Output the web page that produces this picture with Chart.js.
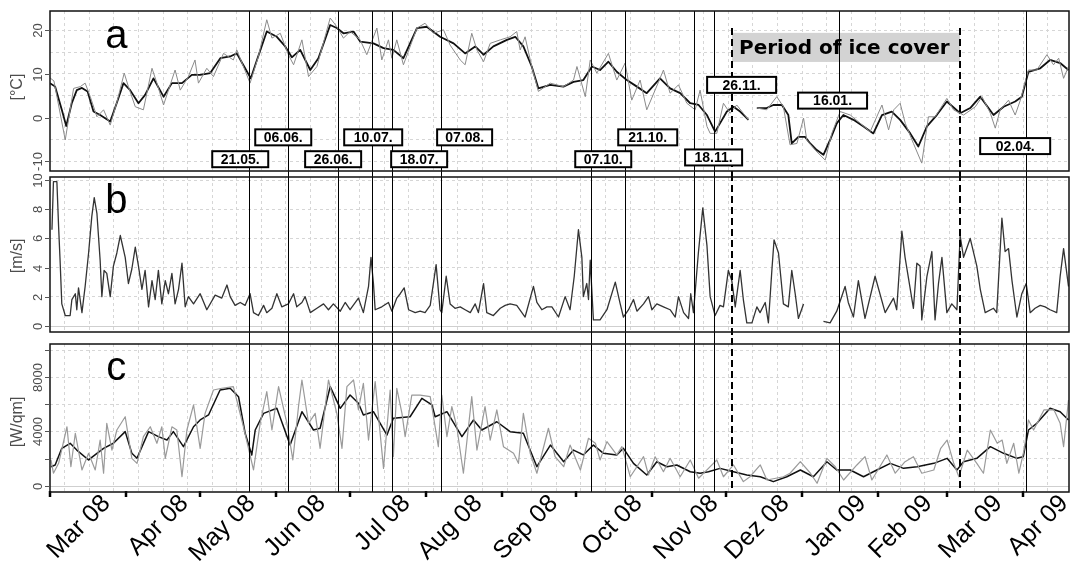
<!DOCTYPE html>
<html>
<head>
<meta charset="utf-8">
<script src="https://cdn.jsdelivr.net/npm/chart.js@4.4.1/dist/chart.umd.min.js"></script>
<style>
  body { margin: 0; background: #fff; }
  #wrap { position: relative; width: 1072px; height: 578px; overflow: hidden; }
  canvas { position: absolute; left: 0; }
</style>
</head>
<body>
<div id="wrap">
  <canvas id="pa" width="1072" height="174" style="top:0px"></canvas>
  <canvas id="pb" width="1072" height="164" style="top:174px"></canvas>
  <canvas id="pc" width="1072" height="240" style="top:338px"></canvas>
</div>
<script>
// x values are days since 01.03.2008
const monthStarts = [0, 31, 61, 92, 122, 153, 184, 214, 245, 275, 306, 337, 365, 396];
const monthLabels = ['Mar 08','Apr 08','May 08','Jun 08','Jul 08','Aug 08','Sep 08','Oct 08','Nov 08','Dez 08','Jan 09','Feb 09','Mar 09','Apr 09'];
// where the rotated month labels end (as in the original figure, they sit late in the month)
const monthLabelDays = [23, 54.7, 82, 110.5, 145, 174.3, 205, 239.4, 270.3, 299.2, 330.5, 357.4, 385.9, 412.7];

const eventDays = [81, 97, 117, 131, 139, 159, 220, 234, 262, 270, 321, 397];
const eventLabels = ['21.05.','06.06.','26.06.','10.07.','18.07.','07.08.','07.10.','21.10.','18.11.','26.11.','16.01.','02.04.'];
const iceDays = [277.5, 370.3];

// a: air temperature [°C]
const tempDailyDays = [
  0, 1.6, 6.2, 9.6, 12.3, 14.3, 16.4, 19.1, 21.8, 24.5,
  27.2, 30.2, 31.9, 34.7, 38, 41.5, 43.5, 46.2, 50.9, 53, 56.3,
  59, 60.4, 63.8, 66.5, 70.6, 74.6, 76, 81.4, 84.8, 88.2,
  90.3, 93.7, 97, 99.1, 102.5, 105.2, 108.6, 114, 116.7, 119.4,
  122.1, 126.2, 128.9, 133, 135, 137.7, 139.1, 141.1, 143.8, 149.3,
  152.6, 156, 160.1, 162.8, 166.9, 168.9, 171.6, 173.7, 176.4, 179.1,
  183.2, 187.2, 189.9, 191.3, 193.3, 196, 198.7, 203.5, 208.9, 213,
  214.4, 217.8, 219.8, 222.5, 227.2, 230.6, 234, 236.7, 240.1, 242.8,
  246.2, 249.6, 252.3, 255.7, 259.1, 262.5, 264.5, 267.3, 268.6, 271.3,
  274, 276.7, 279.4, 282.1, 284.2, 285.9, 287.6, 291.6, 295.7, 298.4,
  301.1, 303.9, 306.6, 307.9, 311.3, 315.4, 318.1, 321.5, 325.6, 329.7,
  333.7, 338.5, 341.2, 343.3, 345.9, 348, 351.3, 354.7, 357.4, 360.1,
  364.9, 367.6, 371.7, 376.5, 379.2, 382.6, 384.6, 386.6, 390, 392.7,
  394.8, 398.1, 401.5, 405.6, 408.3, 410.4, 412.4, 414.4
];
const tempDaily = [
  9.1, 8.4, -5.1, 6.7, 7.1, 7.9, 4.8, 0.2, 1.8, -1.7,
  3.5, 10.2, 7.1, 2.5, 1.8, 11.3, 7.9, 2.9, 10.9, 6.3, 9.4,
  13.2, 7.9, 11.3, 9.4, 14.7, 13.2, 15.5, 7.9, 14, 22.4,
  18.2, 19.3, 14.4, 12.1, 17.8, 9.4, 11.7, 22.8, 20.8, 18.2,
  19.7, 17.8, 14.4, 20.5, 13.2, 17.8, 13.6, 17.8, 12.1, 20.5,
  21.6, 19.3, 20.1, 16.6, 13.2, 12.1, 19.3, 15.5, 12.8, 17,
  17.8, 18.5, 19.7, 15.5, 18.5, 11.7, 6, 7.9, 7.1, 8.6,
  11.7, 4.8, 13.2, 10.2, 14.7, 8.6, 12.5, 4, 8.6, 1.8,
  6.3, 10.9, 5.6, 7.5, 3.3, 1.8, 6.3, -2, -3.6, -3.6,
  3.3, 1, 2.9, 1, -0.5, null, 2.2, 1.8, 4.8, 2.5,
  -6.2, -5.9, -0.1, -5.1, -7.4, -9.7, -3.6, 1.4, 0.6, -1.3,
  -3.2, 2.9, -2.8, 1.8, 3.3, -1.3, -5.9, -10.4, 0.2, 0.2,
  4.4, 1.8, 0.6, 2.5, 4.8, 1, -2.4, 1.8, 4, 0.6,
  4, 10.9, 10.9, 14.4, 12.1, 13.6, 9, 11.7
];
const tempSmoothDays = [
  0, 2.1, 4.8, 6.6, 8.9, 10.9, 13, 15.3, 17.7, 20.4,
  24.5, 27.2, 29.9, 32.6, 36, 38.7, 42.1, 46.2, 49.6, 53.7,
  57.7, 61.1, 65.2, 69.3, 73.3, 76, 78.7, 81.7, 84.2, 88.2,
  92.3, 95.7, 98.4, 101.8, 105.9, 109.2, 114, 116.7, 119.4, 123.5,
  126.2, 131.6, 135.7, 139.7, 143.8, 149.3, 153.3, 158.7, 164.2, 168.9,
  173, 176.4, 180.4, 185.9, 189.3, 192.6, 196, 198.7, 203.5, 208.9,
  213, 217, 220.5, 223.8, 227.2, 230.6, 234.7, 238.8, 242.8, 248.2,
  252.3, 256.4, 260.5, 263.9, 267.3, 270.6, 272.6, 275.4, 278.1, 280.8,
  284.2, 285.9, 287.6, 291.6, 294.3, 297.8, 300.4, 301.8, 304.5, 307.2,
  309.3, 312, 314.7, 317.4, 320.1, 322.8, 326.9, 331, 335, 338.5,
  342.5, 345.9, 350, 353.3, 356.8, 360.8, 364.9, 370.3, 374.4, 378.5,
  383.9, 388, 392.7, 395.4, 398.1, 402.9, 406.9, 411, 414.4
];
const tempSmooth = [
  7.9, 7.1, 1.8, -1.9, 3.4, 6.3, 6.8, 6, 1.4, 0.6,
  -0.9, 3.4, 7.9, 6.3, 3.3, 5.2, 9, 4.8, 7.9, 7.9,
  9.8, 9.8, 10.2, 13.6, 14, 14.7, 12, 9, 13.2, 19.7,
  18.5, 16.3, 13.8, 15.5, 10.9, 13.6, 21.2, 20.5, 19.3, 19.7,
  17.4, 17, 15.9, 15.5, 13.6, 20.5, 20.8, 18.5, 17, 14.7,
  16.3, 14.4, 16.3, 17.8, 18.5, 16.3, 11.7, 6.7, 7.5, 7.1,
  8.2, 8.6, 11.7, 10.9, 12.8, 10.5, 8.6, 7.1, 5.6, 9,
  6.7, 5.6, 3.3, 2.9, 0.6, -3.2, -1.3, 1.4, 2.5, 1.4,
  -0.5, null, 2.2, 2.2, 2.9, 2.9, 0.6, -5.9, -4.4, -4.4,
  -5.9, -7.4, -8.5, -5.1, -1.3, 0.6, -0.5, -2, -3.6, 0.6,
  1.4, -0.5, -3.6, -6.6, -2, 0.6, 3.7, 1, 2.2, 4.8,
  0.6, 2.5, 3.7, 4.8, 10.5, 11.3, 13.2, 12.5, 10.9
];

// b: wind speed [m/s]
const windDays = [
  0.8, 1.4, 2.8, 3.5, 4.1, 4.8, 6.2, 8.2, 8.9, 10.3,
  10.9, 11.6, 13, 14.3, 15.7, 17, 18, 19.1, 20.4, 21.1,
  22, 23.1, 24.5, 25.8, 27.2, 28.6, 30.6, 31.9, 33.3, 34.7,
  36, 37.4, 38.7, 40.1, 41.5, 42.8, 44.1, 45.5, 46.9, 48.2,
  49.6, 50.9, 52.3, 53.7, 55, 56.3, 58.4, 61.1, 63.8, 67.2,
  69.9, 72, 73.3, 75.3, 77.4, 79.4, 81.4, 82.8, 84.8, 86.9,
  88.2, 90.3, 92.3, 94.3, 97, 99.1, 100.4, 102.5, 103.8, 105.9,
  108.6, 111.3, 113.3, 115.3, 118.1, 120.1, 122.1, 125.5, 127.5, 129.6,
  130.6, 131.6, 132.3, 135, 137.7, 139.1, 141.1, 142.5, 144.1, 145.9,
  148.6, 150.6, 152.6, 154.7, 157.1, 158.7, 159.4, 161.2, 162.8, 164.8,
  166.9, 168.9, 171, 173, 174.3, 176.4, 177.7, 180.4, 183.2, 185.2,
  187.2, 189.9, 193.3, 196.7, 198.1, 200.1, 202.2, 204.2, 206.9, 209.6,
  211.6, 213.3, 215, 216.4, 217, 218.4, 219.1, 219.8, 221.1, 223.8,
  226.6, 230, 232, 233.3, 235.4, 237.4, 238.8, 241.5, 243.5, 244.9,
  246.9, 249.6, 252.3, 254.4, 255.7, 257.8, 259.8, 260.7, 261.8, 263.8,
  265.6, 267.3, 268.6, 270.6, 272.6, 274, 276, 277.4, 278.8, 280.8,
  282.1, 283.5, 285.6, 287.6, 288.9, 291, 292.3, 293.7, 294.6, 296.4,
  298.4, 300.4, 301.8, 303.2, 304.5, 306.6, 310, 314.7, 317.4, 320.1,
  323.5, 324.8, 326.9, 328.9, 331.6, 335.7, 339.8, 343.2, 344.5, 346.6,
  347.9, 351.3, 352.7, 354, 354.7, 356.8, 358.8, 360.1, 361.5, 362.9,
  364.9, 366.9, 369, 370.3, 371.7, 374.4, 377.1, 378.5, 380.5, 383.9,
  385.2, 387.3, 388.6, 390, 391.4, 393.4, 395.4, 397.2, 398.8, 400.8,
  402.9, 404.9, 406.9, 409.6, 411, 412.4, 414.4
];
const wind = [
  6.6, 9.9, 9.9, 6.8, 4.5, 1.5, 0.7, 0.7, 1.8, 2.2,
  1.1, 2.6, 0.9, 2.7, 5, 7.5, 8.8, 7.7, 4.5, 2,
  3.8, 3.6, 2, 4.1, 5, 6.2, 4.7, 2.9, 3.9, 5.4,
  4.1, 2.5, 3.8, 1.3, 3.1, 1.8, 3.8, 1.5, 3.1, 2.2,
  3.6, 1.5, 2.5, 4.3, 1.3, 2, 1.5, 2.2, 1.1, 2.1,
  1.9, 2.8, 2, 1.4, 1.6, 1.4, 2.2, 0.9, 0.7, 1.4,
  0.9, 1.2, 2.2, 1.3, 1.5, 2.2, 1.3, 1.6, 2, 0.9,
  1.2, 1.5, 1.1, 1.5, 1, 1.6, 1.1, 1.9, 0.9, 2.7,
  4.7, 2.9, 1.1, 1.3, 1.6, 1, 1.9, 2.2, 2.6, 1.1,
  0.9, 1, 0.9, 1.4, 4.2, 1.1, 0.9, 3.4, 1.5, 1.2,
  1.3, 1.1, 0.9, 1.5, 0.9, 2.9, 0.9, 0.7, 1.2, 1.4,
  1.5, 1.4, 0.6, 2.7, 1.6, 1.1, 1.3, 1.3, 0.6, 2,
  1.1, 3.4, 6.6, 4.7, 2, 2.9, 1.8, 4.5, 0.4, 0.4,
  1.1, 3, 1.5, 0.6, 1.1, 1.8, 1, 1.5, 2, 1.1,
  1.5, 1.3, 1.1, 0.6, 2, 0.9, 0.5, 2.2, 0.9, 5,
  8.1, 5.5, 2, 0.7, 1.4, 1.3, 3.8, 3.1, 1.3, 3.8,
  1.8, 0.2, 0.2, 1.3, 0.9, 1.6, 0.2, 3.8, 5.9, 5,
  1.5, 1.3, 3.8, 2.2, 0.5, 1.5, null, 0.3, 0.2, 1,
  2.7, 1.6, 0.6, 3.1, 0.5, 3.4, 0.9, 1.9, 1.1, 6.5,
  4.7, 1.2, 4.3, 4.1, 0.4, 3.4, 5.1, 0.4, 2.9, 4.7,
  0.9, 1.5, 1.1, 6.2, 4.7, 6, 4.1, 2.5, 0.9, 1.2,
  0.9, 7.4, 5.1, 5.3, 3.1, 0.6, 2.2, 2.9, 0.9, 1.2,
  1.4, 1.3, 1.1, 0.9, 3.4, 5.3, 2.7
];

// c: radiation [W/qm]
const radDailyDays = [
  0.4, 1.4, 3.5, 6.9, 8.5, 10.3, 13, 15.7, 18.4, 20.4,
  21.8, 23.1, 25.2, 27.2, 30.6, 33.3, 35.4, 38, 40.8, 43.5,
  45.5, 46.9, 49.6, 51.6, 53.7, 55.7, 58.4, 61.1, 63.1, 66.5,
  69.9, 74.6, 78.7, 82.8, 85.5, 88.2, 90.3, 93, 96.4, 98.8,
  101.1, 102.5, 105.2, 107.9, 109.9, 113.3, 116.7, 118.8, 120.8, 123.5,
  125.5, 127.5, 129.6, 132.3, 135.7, 138.4, 139.7, 141.1, 143.2, 144.5,
  147.2, 150.6, 154.7, 158, 159.4, 161.5, 163.5, 165.5, 168.2, 171.6,
  173.7, 177, 179.1, 181.8, 184.5, 188.6, 190.6, 192.6, 195.4, 198.1,
  202.8, 205.5, 209, 211.6, 215.8, 219.1, 221.9, 223.8, 226.6, 230.6,
  232.7, 236.1, 241.5, 243.5, 246.2, 249.6, 252.3, 256.4, 260.5, 263.9,
  267.9, 271.3, 274, 278.1, 282.1, 284.8, 289, 291.7, 298.4, 301.1,
  305.3, 309.4, 312.1, 316.1, 319.5, 322.9, 328.3, 331.6, 334.4, 340.5,
  343.9, 347.9, 351.3, 354.7, 359.6, 362.4, 365, 367.7, 369.8, 373.2,
  377.1, 379.8, 382.6, 385.4, 387.4, 389.3, 392.1, 394.2, 396.3, 398.1,
  400.2, 404.4, 408.5, 411, 412.4, 414.4
];
const radDaily = [
  1900, 920, 1650, 4350, 1400, 3870, 1160, 2390, 1160, 3370,
  920, 4600, 2630, 4110, 5090, 2020, 1650, 3620, 4350, 3130,
  4350, 2020, 4350, 4110, 660, 4110, 5960, 2760, 5340, 7060,
  7190, 7310, 4350, 1160, 4600, 6940, 4110, 7310, 4600, 1900,
  5830, 7800, 4600, 5340, 2760, 7800, 5340, 2760, 7310, 7800,
  5590, 7560, 3370, 7680, 1280, 7060, 2140, 7190, 5340, 3620,
  6690, 6690, 6570, 2880, 6690, 3620, 5830, 4350, 920, 6570,
  2630, 5830, 3370, 5590, 2880, 2390, 1650, 5340, 2390, 920,
  4240, 2140, 1400, 3000, 1160, 3500, 3130, 1900, 3250, 2270,
  2880, 660, 2140, 790, 2140, 1030, 2020, 660, 1900, 550,
  1280, 1900, 660, 1530, 300, 660, 1530, 420, 660, 920,
  1770, 920, 180, 2020, 1400, 420, 1530, 2140, 420, 2270,
  920, 1770, 2140, 920, 1160, 2760, 3370, 1650, 660, 2630,
  1650, 920, 4110, 3130, 3370, 1650, 3130, 920, 2630, 4850,
  4110, 5590, 5590, 4600, 2880, 6320
];
const radSmoothDays = [
  0.4, 2.1, 4.8, 8.2, 10.9, 15.7, 19.1, 21.8, 25.8, 30.6,
  33.3, 35.4, 40.1, 44.1, 47.6, 50.2, 54.3, 58.4, 61.1, 64.5,
  69.2, 73.3, 76.7, 79.4, 82.1, 83.5, 86.9, 92.3, 97.7, 102.5,
  107.2, 109.9, 114, 118.1, 122.1, 125.5, 127.5, 131.6, 137.1, 139.7,
  146.5, 151.3, 155.4, 156.7, 161.5, 167.6, 172.3, 175.7, 181.8, 187.2,
  192.6, 198.1, 203.6, 209, 213, 217, 221.1, 225.2, 230.6, 233.3,
  237.4, 242.8, 246.9, 251, 255, 260.5, 264.5, 267.9, 272.6, 278.1,
  283.5, 289, 294.3, 299.8, 305.3, 310.6, 316.1, 320.1, 325.6, 331,
  336.4, 341.9, 347.3, 352.8, 359.6, 365, 369, 371.7, 377.1, 382.6,
  388, 393.4, 396, 398.1, 401.5, 406.9, 411, 414.4
];
const radSmooth = [
  1400, 1530, 2760, 3130, 2630, 1900, 2390, 2760, 3130, 3990,
  2390, 2020, 3990, 3620, 3370, 3990, 2880, 4350, 4850, 5220,
  7060, 7190, 6570, 3870, 2270, 4110, 5340, 5710, 3000, 5460,
  4110, 4240, 7310, 5710, 6690, 6080, 5220, 5460, 3740, 4970,
  5090, 6450, 5960, 5090, 5460, 3620, 4850, 4110, 4720, 3990,
  3870, 1400, 3000, 1770, 2630, 2270, 3000, 2390, 2270, 2760,
  1650, 790, 1770, 1400, 1530, 1030, 920, 1030, 1280, 1030,
  790, 660, 300, 660, 1160, 660, 1770, 1160, 1160, 660,
  1160, 1650, 1280, 1400, 1650, 2020, 1160, 1770, 2020, 2880,
  2390, 2020, 2140, 4110, 4600, 5710, 5460, 4850
];

const X_MAX = 414.6;
const FONT = '"Liberation Sans", Arial, sans-serif';

// date boxes in panel a: centre day, centre value, box width
const dateBoxes = [
  {d: 77.4, v: -9.5, w: 56}, {d: 94.9, v: -4.5, w: 56}, {d: 115.2, v: -9.5, w: 56},
  {d: 131.5, v: -4.5, w: 58}, {d: 150.2, v: -9.5, w: 56}, {d: 168.7, v: -4.5, w: 55},
  {d: 225.1, v: -9.5, w: 56}, {d: 243.2, v: -4.5, w: 59}, {d: 270, v: -9.1, w: 57},
  {d: 281.4, v: 7.5, w: 69}, {d: 318.4, v: 3.9, w: 69}, {d: 392.7, v: -6.5, w: 70}
];

const panelCfg = {
  pa: {letter: 'a', letterY: 16, title: '[°C]', titleY: 7, ticks: [-10, 0, 10, 20], labels: [-10, 0, 10, 20], top: 'area', bottom: 'canvas', iceTop: 20.5},
  pb: {letter: 'b', letterY: 7.75, title: '[m/s]', titleY: 4.8, ticks: [0, 2, 4, 6, 8, 10], labels: [0, 2, 4, 6, 8, 10], zero: true, top: 'canvas', bottom: 'canvas'},
  pc: {letter: 'c', letterY: 7800, title: '[W/qm]', titleY: 4700, ticks: [0, 2000, 4000, 6000, 8000, 10000], labels: [0, 4000, 8000], zero: true, top: 'canvas', bottom: 'area'}
};

const gridDays = [];
for (let d = 6; d < X_MAX; d += 10) gridDays.push(d);

function pts(days, vals) {
  return days.map((d, i) => ({x: d, y: vals[i]}));
}

const decoPlugin = {
  id: 'deco',
  beforeDatasetsDraw(chart) {
    const c = panelCfg[chart.canvas.id], ctx = chart.ctx, a = chart.chartArea;
    const x = chart.scales.x, y = chart.scales.y;
    ctx.save();
    if (c.zero) {
      const py = Math.round(y.getPixelForValue(0)) + 0.5;
      ctx.strokeStyle = '#cfcfcf'; ctx.lineWidth = 1;
      ctx.beginPath(); ctx.moveTo(a.left, py); ctx.lineTo(a.right, py); ctx.stroke();
    }
    if (chart.canvas.id === 'pa') {
      const l = x.getPixelForValue(iceDays[0]), r = x.getPixelForValue(iceDays[1]);
      const t = y.getPixelForValue(19.4), b = y.getPixelForValue(12.75);
      ctx.fillStyle = '#d3d3d3';
      ctx.fillRect(l, t, r - l, b - t);
      ctx.fillStyle = '#000';
      ctx.font = 'bold 20px "DejaVu Sans"';
      ctx.textAlign = 'left'; ctx.textBaseline = 'middle';
      ctx.fillText('Period of ice cover', l + 7, (t + b) / 2 + 1);
    }
    ctx.restore();
  },
  afterDatasetsDraw(chart) {
    const c = panelCfg[chart.canvas.id], ctx = chart.ctx, a = chart.chartArea;
    const x = chart.scales.x, y = chart.scales.y;
    const top = c.top === 'area' ? a.top : 0;
    const bottom = c.bottom === 'area' ? a.bottom : chart.height;
    ctx.save();
    // event lines
    ctx.strokeStyle = '#000'; ctx.lineWidth = 1;
    eventDays.forEach(d => {
      const px = Math.round(x.getPixelForValue(d)) + 0.5;
      ctx.beginPath(); ctx.moveTo(px, top); ctx.lineTo(px, bottom); ctx.stroke();
    });
    // ice cover start / end
    ctx.lineWidth = 2; ctx.setLineDash([7, 4]);
    const iceTop = c.iceTop !== undefined ? y.getPixelForValue(c.iceTop) : top;
    iceDays.forEach(d => {
      const px = Math.round(x.getPixelForValue(d));
      ctx.beginPath(); ctx.moveTo(px, iceTop); ctx.lineTo(px, bottom); ctx.stroke();
    });
    ctx.setLineDash([]);
    // date boxes
    if (chart.canvas.id === 'pa') {
      ctx.font = 'bold 14px ' + FONT;
      ctx.textAlign = 'center'; ctx.textBaseline = 'middle';
      dateBoxes.forEach((b, i) => {
        const cx = x.getPixelForValue(b.d), cy = y.getPixelForValue(b.v);
        ctx.fillStyle = '#fff';
        ctx.fillRect(cx - b.w / 2, cy - 8, b.w, 16);
        ctx.strokeStyle = '#000'; ctx.lineWidth = 2;
        ctx.strokeRect(cx - b.w / 2, cy - 8, b.w, 16);
        ctx.fillStyle = '#000';
        ctx.fillText(eventLabels[i], cx, cy + 1);
      });
    }
    // month tick marks under panel c
    if (chart.scales.xLab) {
      ctx.strokeStyle = '#000'; ctx.lineWidth = 2.5;
      monthStarts.forEach(d => {
        const px = Math.round(chart.scales.xLab.getPixelForValue(d));
        ctx.beginPath(); ctx.moveTo(px, a.bottom - 1); ctx.lineTo(px, a.bottom + 5); ctx.stroke();
      });
    }
    // frame
    ctx.strokeStyle = '#111'; ctx.lineWidth = 1.5;
    ctx.strokeRect(a.left, a.top, a.right - a.left, a.bottom - a.top);
    // y axis ticks, labels, title
    ctx.strokeStyle = '#555'; ctx.lineWidth = 1;
    ctx.fillStyle = '#4d4d4d';
    ctx.font = '13px ' + FONT;
    ctx.textAlign = 'center'; ctx.textBaseline = 'middle';
    c.ticks.forEach(v => {
      const py = Math.round(y.getPixelForValue(v)) + 0.5;
      ctx.beginPath(); ctx.moveTo(a.left - 5, py); ctx.lineTo(a.left, py); ctx.stroke();
      if (c.labels.includes(v)) {
        ctx.save();
        ctx.translate(a.left - 12, py);
        ctx.rotate(-Math.PI / 2);
        ctx.fillText(String(v), 0, 0);
        ctx.restore();
      }
    });
    ctx.font = '16px ' + FONT;
    ctx.save();
    ctx.translate(18, y.getPixelForValue(c.titleY));
    ctx.rotate(-Math.PI / 2);
    ctx.fillText(c.title, 0, 0);
    ctx.restore();
    // panel letter
    ctx.fillStyle = '#000';
    ctx.font = '40px ' + FONT;
    ctx.textBaseline = 'alphabetic';
    ctx.fillText(c.letter, x.getPixelForValue(27), y.getPixelForValue(c.letterY));
    ctx.restore();
  }
};

function makeScales(yMin, yMax, yGrid) {
  return {
    x: {
      type: 'linear', min: 0, max: X_MAX, position: 'bottom',
      afterBuildTicks: s => { s.ticks = gridDays.map(v => ({value: v})); },
      ticks: {display: false},
      grid: {color: '#d6d6d6', lineWidth: 1, drawTicks: false},
      border: {display: false, dash: [3, 3]},
      afterFit: s => { s.height = 0; s.paddingLeft = 0; s.paddingRight = 0; }
    },
    y: {
      type: 'linear', min: yMin, max: yMax,
      afterBuildTicks: s => { s.ticks = yGrid.map(v => ({value: v})); },
      ticks: {display: false},
      grid: {color: '#d6d6d6', lineWidth: 1, drawTicks: false},
      border: {display: false, dash: [3, 3]},
      afterFit: s => { s.width = 50; }
    }
  };
}

function baseOptions(scales, padTop, padBottom) {
  return {
    responsive: false,
    animation: false,
    devicePixelRatio: 1,
    layout: {padding: {top: padTop, bottom: padBottom, left: 0, right: 3}},
    plugins: {legend: {display: false}, tooltip: {enabled: false}},
    elements: {point: {radius: 0}, line: {tension: 0, borderJoinStyle: 'round'}},
    scales: scales
  };
}

// panel a
new Chart(document.getElementById('pa'), {
  type: 'line',
  data: {
    datasets: [
      {data: pts(tempDailyDays, tempDaily), borderColor: '#8a8a8a', borderWidth: 1, spanGaps: false},
      {data: pts(tempSmoothDays, tempSmooth), borderColor: '#111', borderWidth: 1.8, spanGaps: false}
    ]
  },
  options: baseOptions(makeScales(-12.2, 24.4, [-10, -5, 0, 5, 10, 15, 20]), 11, 3),
  plugins: [decoPlugin]
});

// panel b
new Chart(document.getElementById('pb'), {
  type: 'line',
  data: {
    datasets: [
      {data: pts(windDays, wind), borderColor: '#333', borderWidth: 1.3, spanGaps: false}
    ]
  },
  options: baseOptions(makeScales(-0.43, 10.22, [2, 4, 6, 8, 10]), 3, 6),
  plugins: [decoPlugin]
});

// panel c
const scalesC = makeScales(-465, 10457, [2000, 4000, 6000, 8000, 10000]);
scalesC.xLab = {
  type: 'linear', min: 0, max: X_MAX, position: 'bottom',
  afterBuildTicks: s => { s.ticks = monthLabelDays.map(v => ({value: v})); },
  ticks: {
    autoSkip: false, minRotation: 45, maxRotation: 45, padding: -3,
    color: '#000', font: {family: FONT, size: 25},
    callback: (v, i) => monthLabels[i]
  },
  grid: {display: false, drawTicks: false},
  border: {display: false},
  afterFit: s => { s.height = 86; s.paddingLeft = 0; s.paddingRight = 0; }
};
new Chart(document.getElementById('pc'), {
  type: 'line',
  data: {
    datasets: [
      {data: pts(radDailyDays, radDaily), borderColor: '#9a9a9a', borderWidth: 1.2, spanGaps: false},
      {data: pts(radSmoothDays, radSmooth), borderColor: '#111', borderWidth: 1.5, spanGaps: false}
    ]
  },
  options: baseOptions(scalesC, 6, 0),
  plugins: [decoPlugin]
});
</script>
</body>
</html>
